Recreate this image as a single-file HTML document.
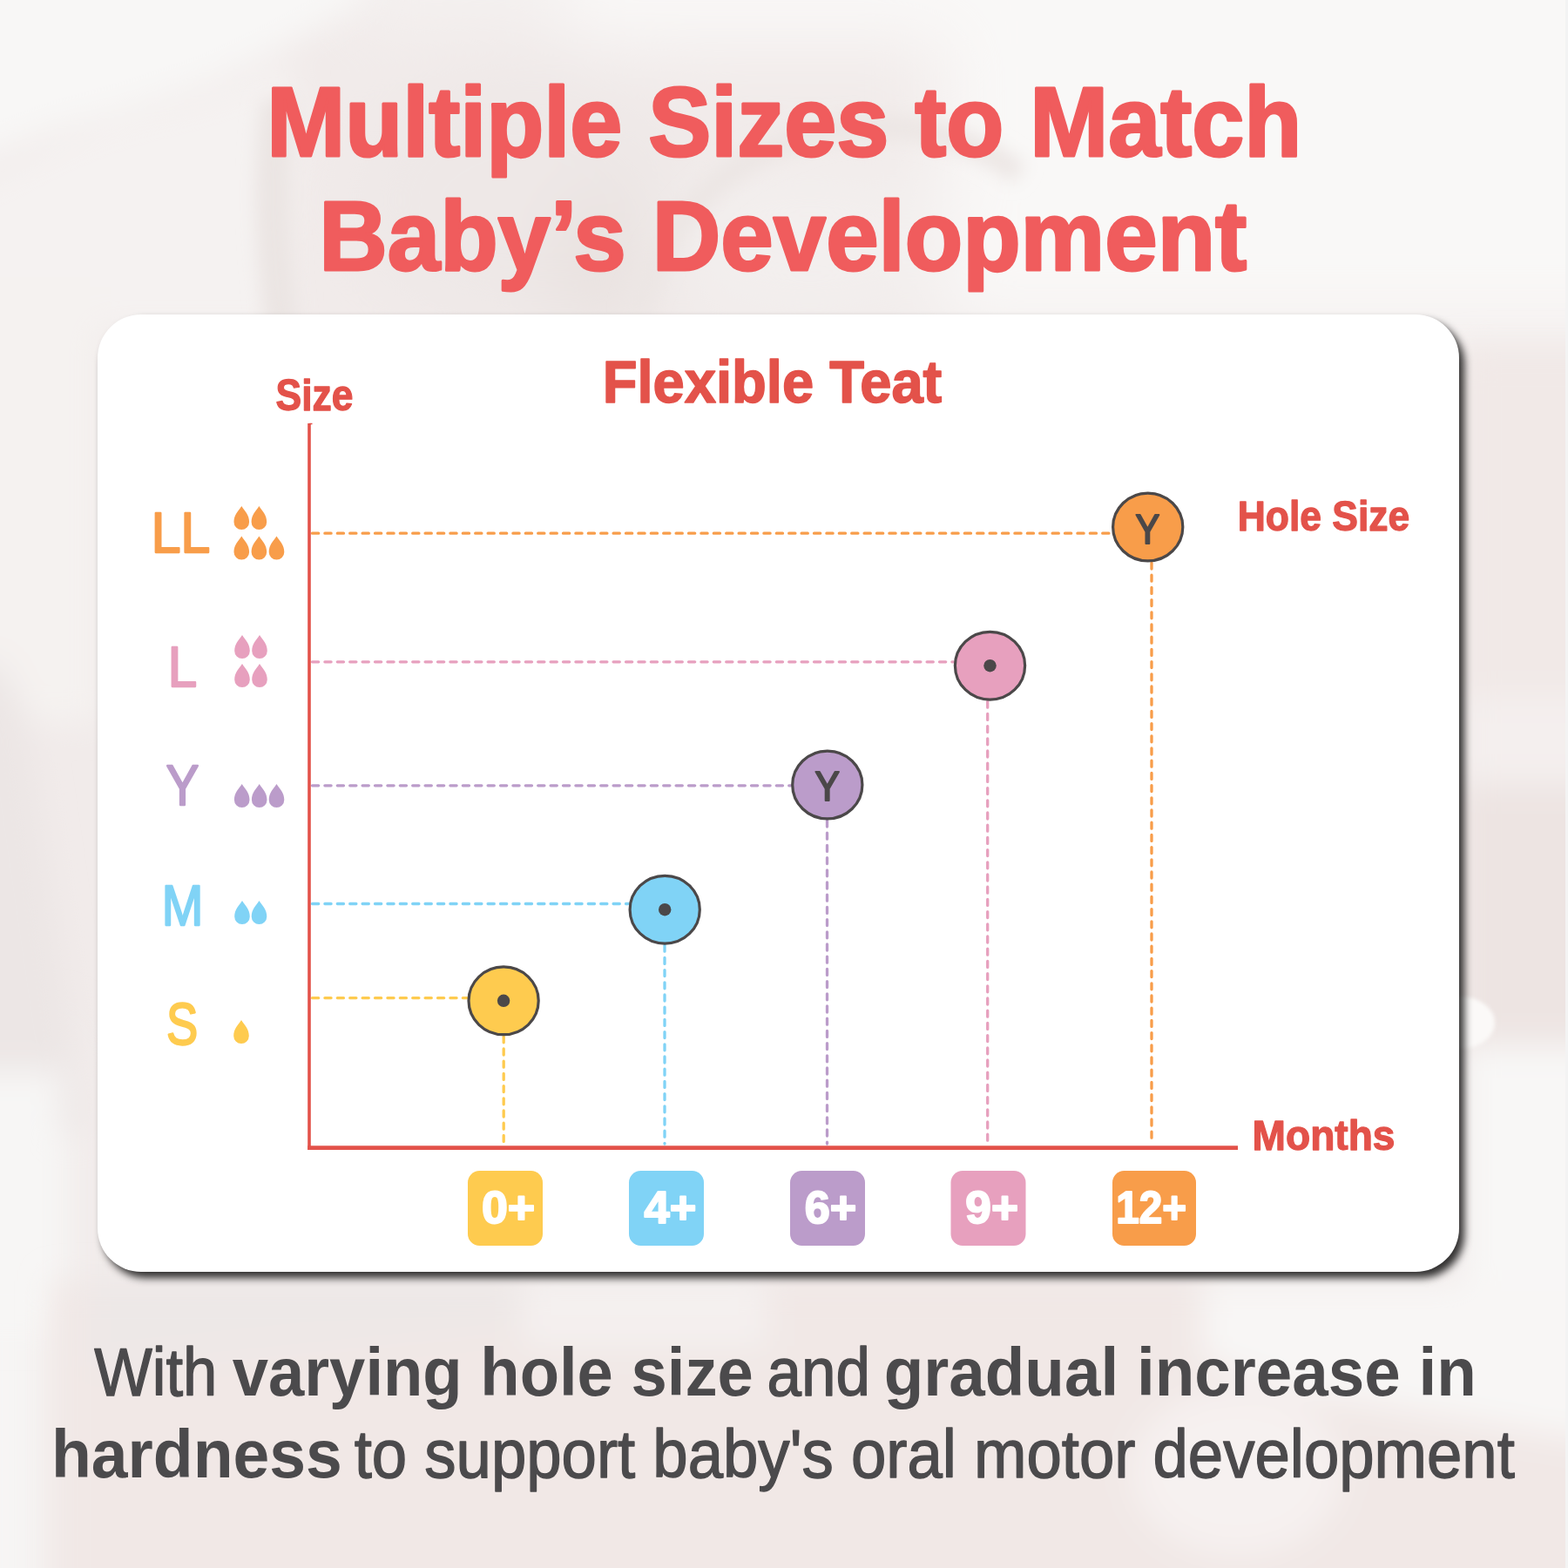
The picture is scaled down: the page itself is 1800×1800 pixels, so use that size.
<!DOCTYPE html>
<html><head><meta charset="utf-8">
<style>
html,body{margin:0;padding:0;}
body{width:1800px;height:1800px;position:relative;overflow:hidden;background:#f2eceb;font-family:"Liberation Sans",sans-serif;}
#bg{position:absolute;left:-200px;top:-200px;width:2200px;height:2200px;}
#card{position:absolute;left:112px;top:361px;width:1563px;height:1099px;background:#fff;border-radius:50px;box-shadow:6px 7px 10px rgba(0,0,0,0.8);}
#fg{position:absolute;left:0;top:0;width:1800px;height:1800px;}
</style></head>
<body>
<svg id="bg" width="2200" height="2200" viewBox="-200 -200 2200 2200">
<defs>
<filter id="b1" x="-20%" y="-20%" width="140%" height="140%"><feGaussianBlur stdDeviation="40"/></filter>
<filter id="b2" x="-20%" y="-20%" width="140%" height="140%"><feGaussianBlur stdDeviation="18"/></filter>
<filter id="b4" x="-50%" y="-50%" width="200%" height="200%"><feGaussianBlur stdDeviation="10"/></filter>
<filter id="b3" x="-50%" y="-50%" width="200%" height="200%"><feGaussianBlur stdDeviation="2"/></filter>
</defs>
<rect x="-200" y="-200" width="2200" height="2200" fill="#f1ebea"/>
<g filter="url(#b1)">
<rect x="1080" y="-300" width="1000" height="680" fill="#f9f8f7"/>
<rect x="400" y="-300" width="300" height="330" fill="#f4f1f0"/>
<rect x="650" y="-300" width="500" height="350" fill="#f9f8f7"/>
<ellipse cx="600" cy="230" rx="200" ry="150" fill="#eee8e7"/>
<ellipse cx="690" cy="300" rx="60" ry="90" fill="#e9e2e0"/>
<ellipse cx="930" cy="280" rx="170" ry="90" fill="#f3efee"/>
<rect x="-300" y="1200" width="360" height="900" fill="#f7f6f5"/>
</g>
<g filter="url(#b2)">
<path d="M-200,-200 L460,-200 L420,0 Q340,50 240,95 Q150,125 60,150 Q20,165 0,175 L-200,260 Z" fill="#f8f7f6"/>
<path d="M0,200 Q80,150 180,125 Q270,105 330,70 L345,130 Q320,220 330,380 L-200,380 L-200,260 Z" fill="#f5f2f1"/>
<rect x="-200" y="330" width="315" height="500" fill="#f5f2f0"/>
<path d="M-200,760 L0,760 L30,820 L100,1300 L-200,1300 Z" fill="#ece6e5"/>
<rect x="-200" y="1230" width="270" height="300" fill="#f7f6f5"/>
</g>
<g filter="url(#b4)">
<path d="M730,360 Q780,190 950,150 Q1080,130 1170,200" fill="none" stroke="#ece6e4" stroke-width="26"/>
<path d="M300,115 Q285,240 305,380 L345,380 Q325,240 340,110 Z" fill="#ebe5e3"/>
</g>
<g filter="url(#b2)">
<rect x="1680" y="400" width="400" height="400" fill="#f1e9e7"/>
<rect x="1680" y="800" width="400" height="100" fill="#f4efee"/>
<rect x="1680" y="900" width="400" height="300" fill="#ede4e2"/>
<rect x="1680" y="1200" width="400" height="330" fill="#f8f7f6"/>
<rect x="60" y="1470" width="2000" height="600" fill="#f1e8e6"/>
<path d="M1380,1470 L2000,1470 L2000,1680 L1800,1650 L1500,1600 L1380,1560 Z" fill="#f8f6f5"/>
<ellipse cx="1420" cy="1690" rx="120" ry="95" fill="#f6f1f0"/>
<path d="M100,1470 L600,1470 L590,1520 L100,1570 Z" fill="#ede8e7"/>
<rect x="600" y="1465" width="280" height="80" fill="#f4f0ef"/>
</g>
<rect x="1797" y="0" width="3" height="1800" fill="#f3f3f3"/>
<ellipse cx="1676" cy="1174" rx="40" ry="30" fill="#fbf9f8" filter="url(#b3)"/>
</svg>
<div id="card"></div>
<svg id="fg" width="1800" height="1800" viewBox="0 0 1800 1800" font-family="'Liberation Sans', sans-serif">
<text x="306.35" y="179.2" font-size="113" font-weight="bold" fill="#f05c5d" stroke="#f05c5d" stroke-width="3" stroke-linejoin="round" textLength="1187.90" lengthAdjust="spacingAndGlyphs">Multiple Sizes to Match</text>
<text x="366.28" y="310.0" font-size="113" font-weight="bold" fill="#f05c5d" stroke="#f05c5d" stroke-width="3" stroke-linejoin="round" textLength="1064.97" lengthAdjust="spacingAndGlyphs">Baby’s Development</text>
<text x="316.54" y="470.8" font-size="50" font-weight="bold" fill="#e3524a" stroke="#e3524a" stroke-width="1.3" stroke-linejoin="round" textLength="88.95" lengthAdjust="spacingAndGlyphs">Size</text>
<text x="691.64" y="462.3" font-size="68" font-weight="bold" fill="#e3524a" stroke="#e3524a" stroke-width="1.6" stroke-linejoin="round" textLength="389.67" lengthAdjust="spacingAndGlyphs">Flexible Teat</text>
<text x="1420.72" y="609.4" font-size="48" font-weight="bold" fill="#e3524a" stroke="#e3524a" stroke-width="1.3" stroke-linejoin="round" textLength="197.59" lengthAdjust="spacingAndGlyphs">Hole Size</text>
<text x="1437.61" y="1320.4" font-size="48" font-weight="bold" fill="#e3524a" stroke="#e3524a" stroke-width="1.3" stroke-linejoin="round" textLength="163.79" lengthAdjust="spacingAndGlyphs">Months</text>
<line x1="358.5" y1="612.2" x2="1275.7" y2="612.2" stroke="#f89d4a" stroke-width="3.3" stroke-linecap="round" stroke-dasharray="7.2 7.2"/>
<line x1="1322.0" y1="646.0" x2="1322.0" y2="1313" stroke="#f89d4a" stroke-width="3.3" stroke-linecap="round" stroke-dasharray="7.0 7.2"/>
<line x1="358.5" y1="759.8" x2="1094.5" y2="759.8" stroke="#e7a0be" stroke-width="3.3" stroke-linecap="round" stroke-dasharray="7.2 7.2"/>
<line x1="1133.7" y1="805.2" x2="1133.7" y2="1313" stroke="#e7a0be" stroke-width="3.3" stroke-linecap="round" stroke-dasharray="7.0 7.2"/>
<line x1="358.5" y1="901.8" x2="907.8" y2="901.8" stroke="#bb9cca" stroke-width="3.3" stroke-linecap="round" stroke-dasharray="7.2 7.2"/>
<line x1="949.5" y1="942.0" x2="949.5" y2="1313" stroke="#bb9cca" stroke-width="3.3" stroke-linecap="round" stroke-dasharray="7.0 7.2"/>
<line x1="358.5" y1="1037.5" x2="721.2" y2="1037.5" stroke="#80d3f6" stroke-width="3.3" stroke-linecap="round" stroke-dasharray="7.2 7.2"/>
<line x1="763.0" y1="1085.2" x2="763.0" y2="1313" stroke="#80d3f6" stroke-width="3.3" stroke-linecap="round" stroke-dasharray="7.0 7.2"/>
<line x1="358.5" y1="1145.6" x2="536.1" y2="1145.6" stroke="#fecb4f" stroke-width="3.3" stroke-linecap="round" stroke-dasharray="7.2 7.2"/>
<line x1="578.2" y1="1189.8" x2="578.2" y2="1313" stroke="#fecb4f" stroke-width="3.3" stroke-linecap="round" stroke-dasharray="7.0 7.2"/>
<line x1="355" y1="486" x2="355" y2="1320" stroke="#e3524a" stroke-width="3.6"/>
<line x1="355" y1="486.5" x2="358.5" y2="486.5" stroke="#e3524a" stroke-width="1.5"/>
<line x1="353.2" y1="1317.7" x2="1421" y2="1317.7" stroke="#e3524a" stroke-width="4.8"/>
<ellipse cx="1317.7" cy="605.0" rx="40.1" ry="38.9" fill="#f89d4a" stroke="#4b4849" stroke-width="3.2"/>
<text x="1303.61" y="623.6" font-size="47.5" font-weight="normal" fill="#4b4849" stroke="#4b4849" stroke-width="2.2" stroke-linejoin="round" textLength="27.78" lengthAdjust="spacingAndGlyphs">Y</text>
<ellipse cx="1136.5" cy="764.2" rx="40.1" ry="38.9" fill="#e7a0be" stroke="#4b4849" stroke-width="3.2"/>
<circle cx="1136.5" cy="764.2" r="7.2" fill="#4b4849"/>
<ellipse cx="949.8" cy="901.0" rx="40.1" ry="38.9" fill="#bb9cca" stroke="#4b4849" stroke-width="3.2"/>
<text x="935.61" y="918.6" font-size="47.5" font-weight="normal" fill="#4b4849" stroke="#4b4849" stroke-width="2.2" stroke-linejoin="round" textLength="28.37" lengthAdjust="spacingAndGlyphs">Y</text>
<ellipse cx="763.2" cy="1044.2" rx="40.1" ry="38.9" fill="#80d3f6" stroke="#4b4849" stroke-width="3.2"/>
<circle cx="763.2" cy="1044.2" r="7.2" fill="#4b4849"/>
<ellipse cx="578.1" cy="1148.8" rx="40.1" ry="38.9" fill="#fecb4f" stroke="#4b4849" stroke-width="3.2"/>
<circle cx="578.1" cy="1148.8" r="7.2" fill="#4b4849"/>
<text x="173.77" y="633.8" font-size="65" font-weight="normal" fill="#f89d4a" stroke="#f89d4a" stroke-width="2.3" stroke-linejoin="round" textLength="67.51" lengthAdjust="spacingAndGlyphs">LL</text>
<text x="192.85" y="787.8" font-size="65" font-weight="normal" fill="#e7a0be" stroke="#e7a0be" stroke-width="2.3" stroke-linejoin="round" textLength="33.41" lengthAdjust="spacingAndGlyphs">L</text>
<text x="190.79" y="924.2" font-size="65" font-weight="normal" fill="#bb9cca" stroke="#bb9cca" stroke-width="2.3" stroke-linejoin="round" textLength="37.52" lengthAdjust="spacingAndGlyphs">Y</text>
<text x="185.64" y="1061.8" font-size="65" font-weight="normal" fill="#80d3f6" stroke="#80d3f6" stroke-width="2.3" stroke-linejoin="round" textLength="47.60" lengthAdjust="spacingAndGlyphs">M</text>
<text x="190.93" y="1199.2" font-size="68" font-weight="normal" fill="#fecb4f" stroke="#fecb4f" stroke-width="2.3" stroke-linejoin="round" textLength="36.22" lengthAdjust="spacingAndGlyphs">S</text>
<path d="M277.30,581.00 C281.26,586.94 286.10,591.28 286.10,599.20 A8.80,8.80 0 0 1 268.50,599.20 C268.50,591.28 273.34,586.94 277.30,581.00Z" fill="#f89d4a"/>
<path d="M297.40,581.00 C301.36,586.94 306.20,591.28 306.20,599.20 A8.80,8.80 0 0 1 288.60,599.20 C288.60,591.28 293.44,586.94 297.40,581.00Z" fill="#f89d4a"/>
<path d="M277.30,615.50 C281.26,621.44 286.10,625.78 286.10,633.70 A8.80,8.80 0 0 1 268.50,633.70 C268.50,625.78 273.34,621.44 277.30,615.50Z" fill="#f89d4a"/>
<path d="M297.40,615.50 C301.36,621.44 306.20,625.78 306.20,633.70 A8.80,8.80 0 0 1 288.60,633.70 C288.60,625.78 293.44,621.44 297.40,615.50Z" fill="#f89d4a"/>
<path d="M317.50,615.50 C321.46,621.44 326.30,625.78 326.30,633.70 A8.80,8.80 0 0 1 308.70,633.70 C308.70,625.78 313.54,621.44 317.50,615.50Z" fill="#f89d4a"/>
<path d="M278.00,729.00 C281.96,734.94 286.80,739.28 286.80,747.20 A8.80,8.80 0 0 1 269.20,747.20 C269.20,739.28 274.04,734.94 278.00,729.00Z" fill="#e7a0be"/>
<path d="M298.00,729.00 C301.96,734.94 306.80,739.28 306.80,747.20 A8.80,8.80 0 0 1 289.20,747.20 C289.20,739.28 294.04,734.94 298.00,729.00Z" fill="#e7a0be"/>
<path d="M278.00,762.00 C281.96,767.94 286.80,772.28 286.80,780.20 A8.80,8.80 0 0 1 269.20,780.20 C269.20,772.28 274.04,767.94 278.00,762.00Z" fill="#e7a0be"/>
<path d="M298.00,762.00 C301.96,767.94 306.80,772.28 306.80,780.20 A8.80,8.80 0 0 1 289.20,780.20 C289.20,772.28 294.04,767.94 298.00,762.00Z" fill="#e7a0be"/>
<path d="M277.70,900.00 C281.66,905.94 286.50,910.28 286.50,918.20 A8.80,8.80 0 0 1 268.90,918.20 C268.90,910.28 273.74,905.94 277.70,900.00Z" fill="#bb9cca"/>
<path d="M297.70,900.00 C301.66,905.94 306.50,910.28 306.50,918.20 A8.80,8.80 0 0 1 288.90,918.20 C288.90,910.28 293.74,905.94 297.70,900.00Z" fill="#bb9cca"/>
<path d="M317.50,900.00 C321.46,905.94 326.30,910.28 326.30,918.20 A8.80,8.80 0 0 1 308.70,918.20 C308.70,910.28 313.54,905.94 317.50,900.00Z" fill="#bb9cca"/>
<path d="M278.00,1034.00 C281.96,1039.94 286.80,1044.28 286.80,1052.20 A8.80,8.80 0 0 1 269.20,1052.20 C269.20,1044.28 274.04,1039.94 278.00,1034.00Z" fill="#80d3f6"/>
<path d="M297.50,1034.00 C301.46,1039.94 306.30,1044.28 306.30,1052.20 A8.80,8.80 0 0 1 288.70,1052.20 C288.70,1044.28 293.54,1039.94 297.50,1034.00Z" fill="#80d3f6"/>
<path d="M277.00,1171.00 C280.96,1176.94 285.80,1181.28 285.80,1189.20 A8.80,8.80 0 0 1 268.20,1189.20 C268.20,1181.28 273.04,1176.94 277.00,1171.00Z" fill="#fecb4f"/>
<rect x="537" y="1344" width="86" height="86" rx="13.5" fill="#fecb4f"/>
<text x="552.93" y="1403.6" font-size="52" font-weight="bold" fill="#ffffff" stroke="#ffffff" stroke-width="2" stroke-linejoin="round" textLength="61.30" lengthAdjust="spacingAndGlyphs">0+</text>
<rect x="722" y="1344" width="86" height="86" rx="13.5" fill="#80d3f6"/>
<text x="739.50" y="1403.6" font-size="52" font-weight="bold" fill="#ffffff" stroke="#ffffff" stroke-width="2" stroke-linejoin="round" textLength="59.76" lengthAdjust="spacingAndGlyphs">4+</text>
<rect x="907" y="1344" width="86" height="86" rx="13.5" fill="#bb9cca"/>
<text x="923.77" y="1403.6" font-size="52" font-weight="bold" fill="#ffffff" stroke="#ffffff" stroke-width="2" stroke-linejoin="round" textLength="59.46" lengthAdjust="spacingAndGlyphs">6+</text>
<rect x="1091.5" y="1344" width="86.0" height="86" rx="13.5" fill="#e7a0be"/>
<text x="1108.36" y="1403.6" font-size="52" font-weight="bold" fill="#ffffff" stroke="#ffffff" stroke-width="2" stroke-linejoin="round" textLength="60.69" lengthAdjust="spacingAndGlyphs">9+</text>
<rect x="1277" y="1344" width="96" height="86" rx="13.5" fill="#f89d4a"/>
<text x="1281.37" y="1403.6" font-size="52" font-weight="bold" fill="#ffffff" stroke="#ffffff" stroke-width="2" stroke-linejoin="round" textLength="80.82" lengthAdjust="spacingAndGlyphs">12+</text>
<text x="108.15" y="1602.4" font-size="77" font-weight="normal" fill="#4b4a4c" stroke="#4b4a4c" stroke-width="1.4" stroke-linejoin="round" textLength="141.11" lengthAdjust="spacingAndGlyphs">With</text>
<text x="266.65" y="1602.4" font-size="77" font-weight="bold" fill="#4b4a4c" textLength="598.19" lengthAdjust="spacingAndGlyphs">varying hole size</text>
<text x="880.54" y="1602.4" font-size="77" font-weight="normal" fill="#4b4a4c" stroke="#4b4a4c" stroke-width="1.4" stroke-linejoin="round" textLength="118.42" lengthAdjust="spacingAndGlyphs">and</text>
<text x="1014.64" y="1602.4" font-size="77" font-weight="bold" fill="#4b4a4c" textLength="680.21" lengthAdjust="spacingAndGlyphs">gradual increase in</text>
<text x="58.89" y="1696" font-size="77" font-weight="bold" fill="#4b4a4c" textLength="333.96" lengthAdjust="spacingAndGlyphs">hardness</text>
<text x="406.65" y="1696" font-size="77" font-weight="normal" fill="#4b4a4c" stroke="#4b4a4c" stroke-width="1.4" stroke-linejoin="round" textLength="1332.20" lengthAdjust="spacingAndGlyphs">to support baby's oral motor development</text>
</svg>
</body></html>
